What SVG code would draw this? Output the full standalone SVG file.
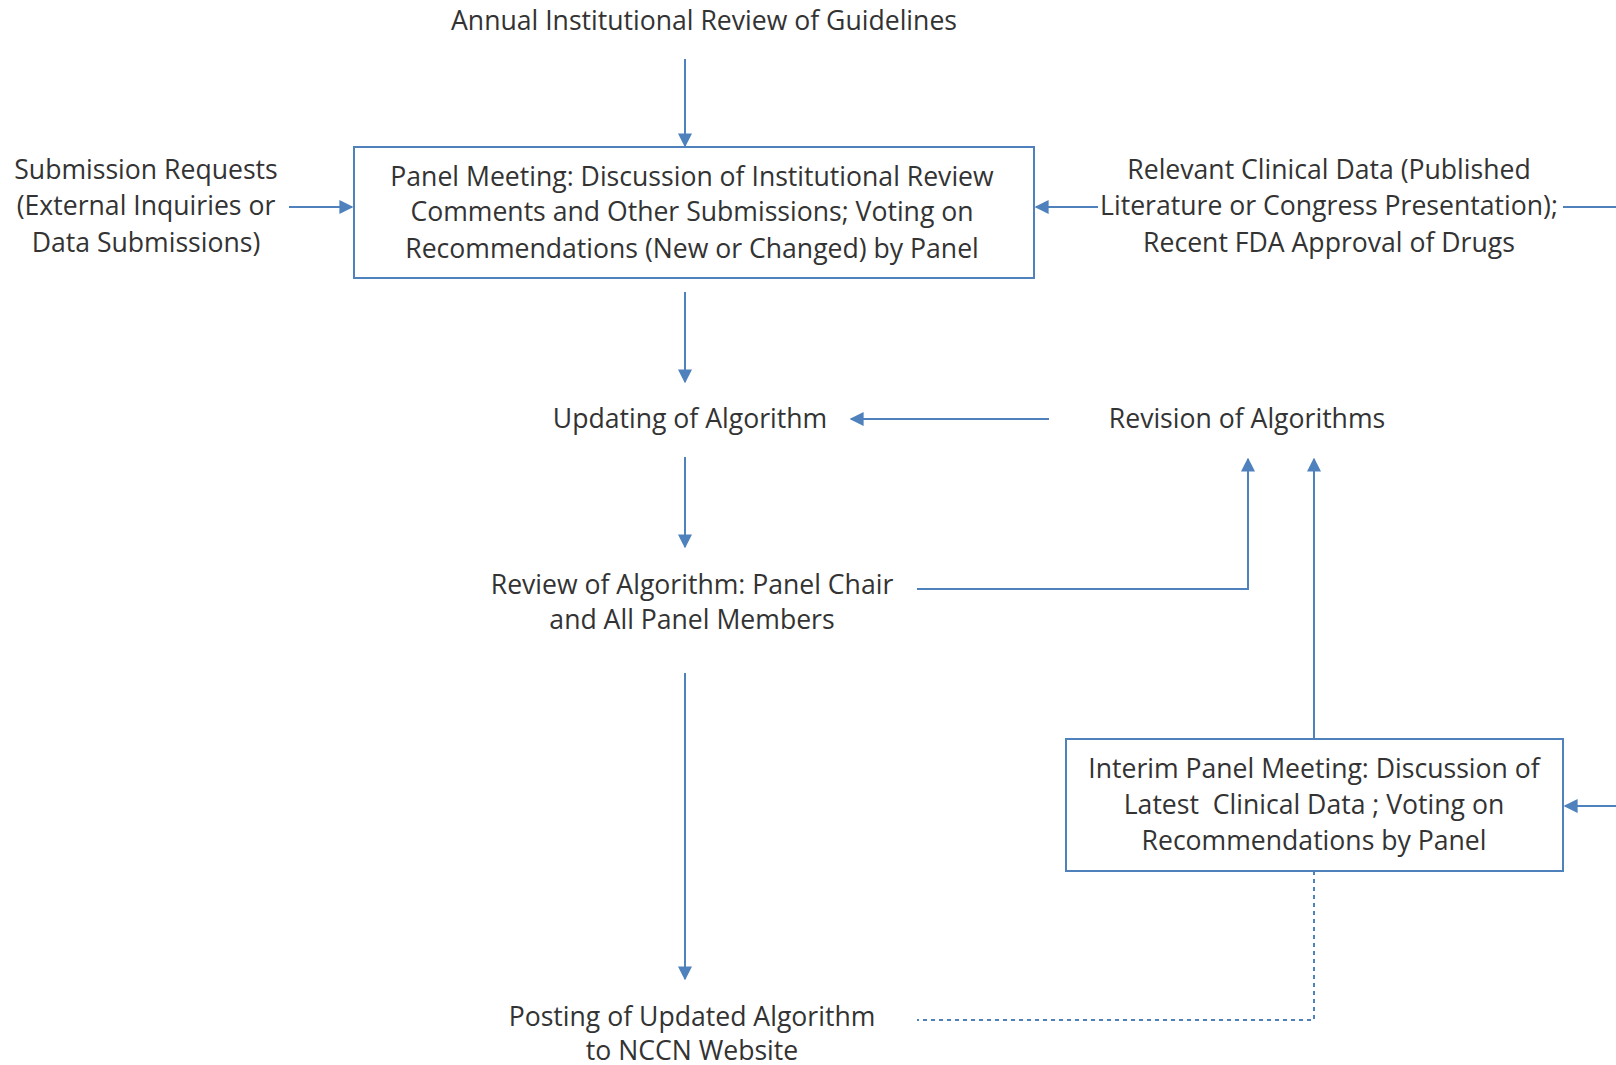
<svg xmlns="http://www.w3.org/2000/svg" width="1616" height="1065" viewBox="0 0 1616 1065">
<style>
  text { font-family: "Open Sans", "Liberation Sans", sans-serif; font-size: 26.6px; fill: #333333; text-anchor: middle; }
  .box { fill: #ffffff; stroke: #4f81bd; stroke-width: 2; }
  .conn { fill: none; stroke: #4f81bd; stroke-width: 2; }
  .dash { fill: none; stroke: #4f81bd; stroke-width: 2; stroke-dasharray: 4 4; }
</style>
<defs>
  <marker id="ah" viewBox="0 0 10 10" refX="9" refY="5" markerWidth="7" markerHeight="7" orient="auto" markerUnits="strokeWidth">
    <path d="M0,0 L10,5 L0,10 z" fill="#4f81bd"/>
  </marker>
</defs>
<rect width="1616" height="1065" fill="#ffffff"/>

<g id="connectors">
  <line class="conn" x1="685" y1="59" x2="685" y2="146" marker-end="url(#ah)"/>
  <line class="conn" x1="289" y1="207" x2="352" y2="207" marker-end="url(#ah)"/>
  <line class="conn" x1="1098" y1="207" x2="1036" y2="207" marker-end="url(#ah)"/>
  <line class="conn" x1="1563" y1="207" x2="1616" y2="207"/>
  <line class="conn" x1="685" y1="292" x2="685" y2="382" marker-end="url(#ah)"/>
  <line class="conn" x1="1049" y1="419" x2="851" y2="419" marker-end="url(#ah)"/>
  <line class="conn" x1="685" y1="457" x2="685" y2="547" marker-end="url(#ah)"/>
  <polyline class="conn" points="917,589 1248,589 1248,459" marker-end="url(#ah)"/>
  <line class="conn" x1="1314" y1="739" x2="1314" y2="459" marker-end="url(#ah)"/>
  <line class="conn" x1="685" y1="673" x2="685" y2="979" marker-end="url(#ah)"/>
  <line class="conn" x1="1616" y1="806" x2="1565" y2="806" marker-end="url(#ah)"/>
  <polyline class="dash" points="1314,871 1314,1020 917,1020"/>
</g>

<g id="annual-review">
  <text x="704" y="30">Annual Institutional Review of Guidelines</text>
</g>

<g id="submission-requests">
  <text x="146" y="179">Submission Requests</text>
  <text x="146" y="215">(External Inquiries or</text>
  <text x="146" y="252">Data Submissions)</text>
</g>

<g id="panel-meeting">
  <rect class="box" x="354" y="147" width="680" height="131"/>
  <text x="692" y="186">Panel Meeting: Discussion of Institutional Review</text>
  <text x="692" y="221">Comments and Other Submissions; Voting on</text>
  <text x="692" y="258">Recommendations (New or Changed) by Panel</text>
</g>

<g id="clinical-data">
  <text x="1329" y="179">Relevant Clinical Data (Published</text>
  <text x="1329" y="215">Literature or Congress Presentation);</text>
  <text x="1329" y="252">Recent FDA Approval of Drugs</text>
</g>

<g id="updating">
  <text x="690" y="428">Updating of Algorithm</text>
</g>

<g id="revision">
  <text x="1247" y="428">Revision of Algorithms</text>
</g>

<g id="review">
  <text x="692" y="594">Review of Algorithm: Panel Chair</text>
  <text x="692" y="629">and All Panel Members</text>
</g>

<g id="interim-meeting">
  <rect class="box" x="1066" y="739" width="497" height="132"/>
  <text x="1314" y="778">Interim Panel Meeting: Discussion of</text>
  <text x="1314" y="814" xml:space="preserve">Latest  Clinical Data ; Voting on</text>
  <text x="1314" y="850">Recommendations by Panel</text>
</g>

<g id="posting">
  <text x="692" y="1026">Posting of Updated Algorithm</text>
  <text x="692" y="1060">to NCCN Website</text>
</g>
</svg>
